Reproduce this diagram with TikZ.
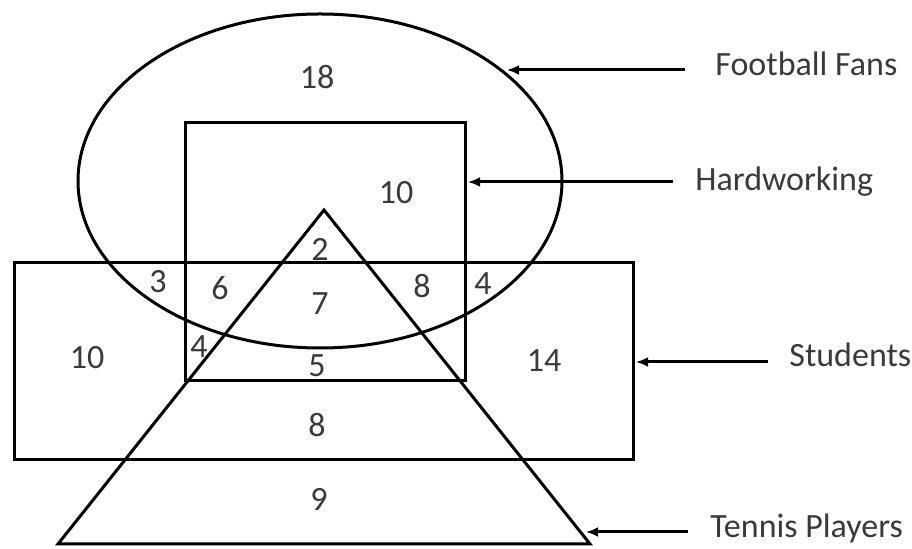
\documentclass[tikz,border=0pt]{standalone}
\usepackage{fontspec}
\setmainfont{Carlito}
\usetikzlibrary{arrows.meta}
\definecolor{txt}{HTML}{3A3A3A}
\begin{document}
\begin{tikzpicture}[x=0.5pt,y=-0.5pt,
  outline/.style={draw=black, line width=1.5pt, line join=miter},
  num/.style={text=txt, font=\fontsize{17}{20}\selectfont, inner sep=0pt},
  lbl/.style={text=txt, font=\fontsize{17}{20}\selectfont, inner sep=0pt, anchor=base west},
  pointer/.style={-{Latex[length=6pt,width=5pt]}, line width=1.5pt, draw=black}]
\useasboundingbox (0,0) rectangle (912,549);
\fill[white] (0,0) rectangle (912,549);
% shapes
\draw[outline] (320,181) ellipse [x radius=242, y radius=167];
\draw[outline] (185,123) rectangle (465,381);
\draw[outline] (14.5,263) rectangle (633,460);
\draw[outline] (324,210) -- (58,544) -- (590,544) -- cycle;
% numbers
\node[num] (n18) at (317,77) {18};
\node[num] (n10a) at (396,193) {10};
\node[num] (n2) at (320,249) {2};
\node[num] (n3) at (158,282) {3};
\node[num] (n6) at (220,288) {6};
\node[num] (n7) at (320,304) {7};
\node[num] (n8a) at (422,286) {8};
\node[num] (n4a) at (483,284) {4};
\node[num] (n10b) at (87,358) {10};
\node[num] (n4b) at (199,347) {4};
\node[num] (n5) at (317,366) {5};
\node[num] (n14) at (544,361) {14};
\node[num] (n8b) at (317,425) {8};
\node[num] (n9) at (319,499) {9};
% labels
\node[lbl] (ff) at (715,76) {Football Fans};
\node[lbl] (hw) at (695,191) {Hardworking};
\node[lbl] (st) at (789,367) {Students};
\node[lbl] (tp) at (710,538) {Tennis Players};
% arrow ends
\coordinate (ffs) at (685,70);  \coordinate (fft) at (507,70);
\coordinate (hws) at (673,182); \coordinate (hwt) at (468,182);
\coordinate (sts) at (768,362); \coordinate (stt) at (636,362);
\coordinate (tps) at (688,532); \coordinate (tpt) at (586,532);
\draw[pointer] (ffs) -- (fft);
\draw[pointer] (hws) -- (hwt);
\draw[pointer] (sts) -- (stt);
\draw[pointer] (tps) -- (tpt);
\end{tikzpicture}
\end{document}
